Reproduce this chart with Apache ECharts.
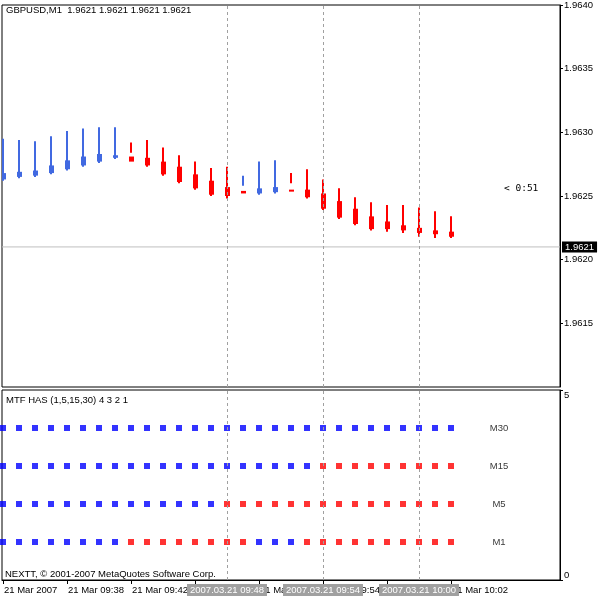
<!DOCTYPE html>
<html>
<head>
<meta charset="utf-8">
<script src="https://cdn.jsdelivr.net/npm/echarts@6/dist/echarts.min.js"></script>
<style>
  html, body { margin: 0; padding: 0; background: #fff; }
  #chart { width: 600px; height: 600px; }
</style>
</head>
<body>
<div id="chart"></div>
<script>
// bar index 0 = 21 Mar 2007 09:34, one bar per minute
const barTimes = ['09:34','09:35','09:36','09:37','09:38','09:39','09:40','09:41','09:42','09:43',
  '09:44','09:45','09:46','09:47','09:48','09:49','09:50','09:51','09:52','09:53',
  '09:54','09:55','09:56','09:57','09:58','09:59','10:00','10:01','10:02'];

// heiken ashi body ends and wick ends
const haOpen  = [1.96263,1.96265,1.96266,1.96268,1.96271,1.96274,1.96277,1.96280,1.96281,1.96280,
  1.96277,1.96273,1.96267,1.96262,1.96257,1.96254,1.96252,1.96253,1.96255,1.96255,
  1.96252,1.96246,1.96240,1.96234,1.96230,1.96227,1.96225,1.96223,1.96222];
const haClose = [1.96268,1.96269,1.96270,1.96274,1.96278,1.96281,1.96283,1.96282,1.96277,1.96274,
  1.96267,1.96261,1.96256,1.96251,1.96250,1.96252,1.96256,1.96257,1.96254,1.96249,
  1.96240,1.96233,1.96228,1.96224,1.96224,1.96223,1.96221,1.96220,1.96218];
const haLow   = [1.96262,1.96264,1.96265,1.96267,1.96270,1.96273,1.96276,1.96279,1.96284,1.96273,
  1.96266,1.96260,1.96255,1.96250,1.96248,1.96258,1.96251,1.96252,1.96260,1.96248,
  1.96239,1.96232,1.96227,1.96223,1.96222,1.96221,1.96218,1.96217,1.96217];
const haHigh  = [1.96295,1.96294,1.96293,1.96297,1.96301,1.96303,1.96304,1.96304,1.96292,1.96294,
  1.96288,1.96282,1.96277,1.96272,1.96273,1.96266,1.96277,1.96278,1.96268,1.96271,
  1.96263,1.96256,1.96249,1.96245,1.96243,1.96243,1.96241,1.96238,1.96234];
// wick colour: 1 = blue, 0 = red
const wickUp  = [1,1,1,1,1,1,1,1,0,0, 0,0,0,0,0,1,1,1,0,0, 0,0,0,0,0,0,0,0,0];

const bidPrice = 1.9621;

// MTF HAS rows: 1 = blue, 0 = red
const m30Up = [1,1,1,1,1,1,1,1,1,1, 1,1,1,1,1,1,1,1,1,1, 1,1,1,1,1,1,1,1,1];
const m15Up = [1,1,1,1,1,1,1,1,1,1, 1,1,1,1,1,1,1,1,1,1, 0,0,0,0,0,0,0,0,0];
const m5Up  = [1,1,1,1,1,1,1,1,1,1, 1,1,1,1,0,0,0,0,0,0, 0,0,0,0,0,0,0,0,0];
const m1Up  = [1,1,1,1,1,1,1,1,0,0, 0,0,0,0,0,0,1,1,1,0, 0,0,0,0,0,0,0,0,0];
const rowNames = ['M30', 'M15', 'M5', 'M1'];
const rowLevels = [4, 3, 2, 1];

const tickIdx = [0, 4, 8, 12, 16, 20, 24, 28];
const tickLabels = ['21 Mar 2007', '21 Mar 09:38', '21 Mar 09:42', '21 Mar 09:46',
  '21 Mar 09:50', '21 Mar 09:54', '21 Mar 09:58', '21 Mar 10:02'];
const sepIdx = [14, 20, 26];
const sepLabels = ['2007.03.21 09:48', '2007.03.21 09:54', '2007.03.21 10:00'];

const BLUE = '#4169e1', RED = '#ff0000';
const DOT_BLUE = '#0000ff', DOT_RED = '#ff0000';
const FONT = 'Liberation Sans';

const candleData = barTimes.map((t, k) => [k, haOpen[k], haClose[k], haLow[k], haHigh[k], wickUp[k]]);

function renderCandle(params, api) {
  const k = api.value(0);
  const o = api.coord([k, api.value(1)]);
  const c = api.coord([k, api.value(2)]);
  const lo = api.coord([k, api.value(3)]);
  const hi = api.coord([k, api.value(4)]);
  const up = api.value(2) > api.value(1);
  const x = Math.round(o[0]);
  const top = Math.min(o[1], c[1]);
  const h = Math.max(Math.abs(o[1] - c[1]), 2);
  return {
    type: 'group',
    children: [
      { type: 'rect', shape: { x: x - 1, y: hi[1], width: 2, height: lo[1] - hi[1] },
        style: { fill: api.value(5) === 1 ? BLUE : RED } },
      { type: 'rect', shape: { x: x - 2, y: top, width: 5, height: h },
        style: { fill: up ? BLUE : RED } }
    ]
  };
}

function sepLine() {
  return {
    silent: true,
    symbol: 'none',
    label: { show: false },
    lineStyle: { color: '#a0a0a0', type: [3, 3], width: 1 },
    data: sepIdx.map(k => ({ xAxis: k }))
  };
}

const rowSeries = [m30Up, m15Up, m5Up, m1Up].map((arr, r) => ({
  type: 'scatter',
  xAxisIndex: 1,
  yAxisIndex: 1,
  symbol: 'rect',
  symbolSize: 6,
  silent: true,
  data: arr.map((u, k) => ({ value: [k, rowLevels[r]], itemStyle: { color: u ? DOT_BLUE : DOT_RED } })),
  markLine: r === 0 ? sepLine() : undefined
}));

const xMin = -0.0625, xMax = 34.8125;
const titleText = { fontFamily: FONT, fontSize: 9.5, fontWeight: 'normal', color: '#000' };

var myChart = echarts.init(document.getElementById('chart'));
option = {
  animation: false,
  backgroundColor: '#fff',
  title: [
    { text: 'GBPUSD,M1  1.9621 1.9621 1.9621 1.9621', left: 6, top: 5, padding: 0, textStyle: titleText },
    { text: '< 0:51', left: 504, top: 184, padding: 0,
      textStyle: { fontFamily: 'DejaVu Sans Mono', fontSize: 9.5, fontWeight: 'normal', color: '#000' } },
    { text: 'MTF HAS (1,5,15,30) 4 3 2 1', left: 6, top: 395, padding: 0, textStyle: titleText },
    { text: 'NEXTT, © 2001-2007 MetaQuotes Software Corp.', left: 5, top: 569, padding: 0, textStyle: titleText }
  ],
  grid: [
    { left: 2, right: 40, top: 3, bottom: 213, show: true, borderColor: '#000', borderWidth: 1 },
    { left: 2, right: 40, top: 390, bottom: 20, show: true, borderColor: '#000', borderWidth: 1 }
  ],
  xAxis: [
    { type: 'value', gridIndex: 0, min: xMin, max: xMax, show: false },
    { type: 'value', gridIndex: 1, min: xMin, max: xMax, position: 'bottom',
      axisLine: { show: true, onZero: false, lineStyle: { color: '#000' } },
      axisTick: { show: true, customValues: tickIdx, length: 4, lineStyle: { color: '#000' } },
      splitLine: { show: false },
      axisLabel: { customValues: tickIdx, align: 'left', margin: 5, padding: [0, 0, 0, 1],
        fontFamily: FONT, fontSize: 9.5, color: '#000',
        formatter: v => tickLabels[tickIdx.indexOf(v)] || '' } },
    { type: 'value', gridIndex: 1, min: xMin, max: xMax, position: 'bottom', z: 5,
      axisLine: { show: false, onZero: false }, axisTick: { show: false }, splitLine: { show: false },
      axisLabel: { customValues: sepIdx, align: 'center', margin: 4, padding: [1, 3, 1, 3],
        backgroundColor: '#a0a0a0', fontFamily: FONT, fontSize: 9.5, color: '#fff',
        formatter: v => sepLabels[sepIdx.indexOf(v)] || '' } }
  ],
  yAxis: [
    { type: 'value', gridIndex: 0, position: 'right', min: 1.9610, max: 1.9640, interval: 0.0005,
      axisLine: { show: true, onZero: false, lineStyle: { color: '#000' } },
      axisTick: { show: true, length: 3, lineStyle: { color: '#000' } },
      splitLine: { show: false },
      axisLabel: { margin: 4, showMinLabel: false, fontFamily: FONT, fontSize: 9.5, color: '#000',
        formatter: v => v.toFixed(4) } },
    { type: 'value', gridIndex: 1, position: 'right', min: 0, max: 5,
      axisLine: { show: true, onZero: false, lineStyle: { color: '#000' } },
      axisTick: { show: true, customValues: [0, 5], length: 3, lineStyle: { color: '#000' } },
      splitLine: { show: false },
      axisLabel: { customValues: [0, 5], margin: 4, fontFamily: FONT, fontSize: 9.5, color: '#000',
        verticalAlignMinLabel: 'bottom', verticalAlignMaxLabel: 'top' } }
  ],
  series: [
    {
      type: 'line',
      xAxisIndex: 0,
      yAxisIndex: 0,
      silent: true,
      symbol: 'none',
      z: 1,
      lineStyle: { color: '#c0c0c0', width: 1 },
      data: [[xMin, bidPrice], [xMax, bidPrice]],
      endLabel: { show: true, distance: 2, formatter: bidPrice.toFixed(4),
        backgroundColor: '#000', color: '#fff', padding: [1, 3, 0, 3],
        fontFamily: FONT, fontSize: 9.5 }
    },
    {
      type: 'custom',
      xAxisIndex: 0,
      yAxisIndex: 0,
      clip: true,
      z: 2,
      renderItem: renderCandle,
      data: candleData,
      markLine: sepLine()
    },
    ...rowSeries,
    {
      type: 'scatter',
      xAxisIndex: 1,
      yAxisIndex: 1,
      symbolSize: 1,
      silent: true,
      itemStyle: { color: 'rgba(0,0,0,0)' },
      label: { show: true, position: 'inside', color: '#000', fontFamily: FONT, fontSize: 9.5,
        formatter: p => p.value[2] },
      data: rowNames.map((n, r) => [31, rowLevels[r], n])
    }
  ]
};
myChart.setOption(option);
</script>
</body>
</html>
